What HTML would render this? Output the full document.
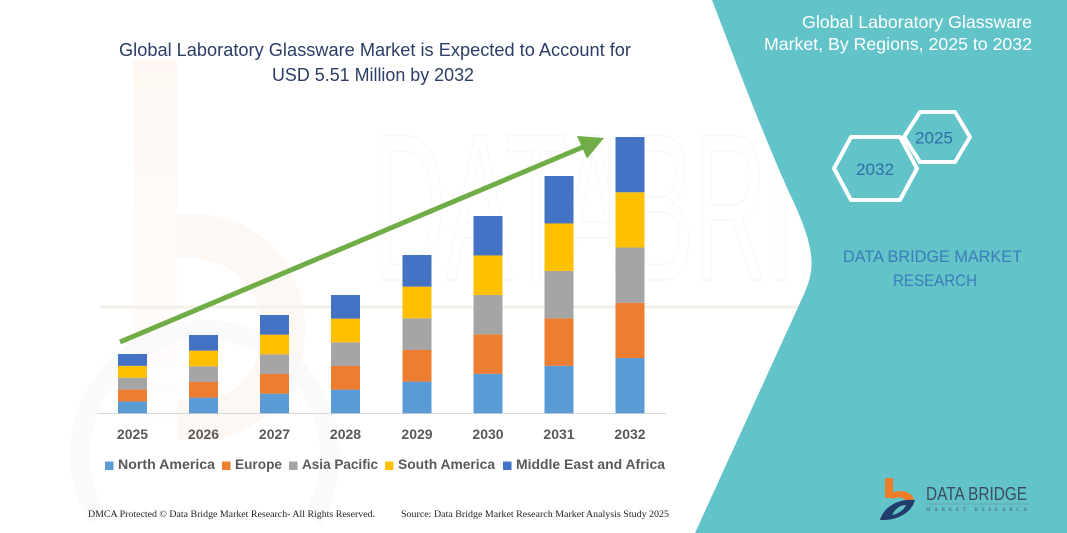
<!DOCTYPE html>
<html>
<head>
<meta charset="utf-8">
<style>
html,body{margin:0;padding:0;background:#fff;width:1067px;height:533px;overflow:hidden;}
svg{display:block;}
</style>
</head>
<body>
<svg width="1067" height="533" viewBox="0 0 1067 533" xmlns="http://www.w3.org/2000/svg">
  <defs>
    <linearGradient id="gOr" x1="0" y1="0" x2="0" y2="1">
      <stop offset="0" stop-color="#fbe3d3" stop-opacity="0.8"/>
      <stop offset="1" stop-color="#fbe3d3" stop-opacity="0.15"/>
    </linearGradient>
  </defs>
  <rect width="1067" height="533" fill="#ffffff"/>

  <!-- faint watermark: orange b and blue arc -->
  <g opacity="0.35">
    <rect x="133" y="60" width="44" height="360" fill="url(#gOr)"/>
    <path d="M177,215 C250,205 305,260 305,330 C305,395 255,440 200,440 L177,440 L177,400 L200,400 C235,400 262,370 262,330 C262,285 230,255 177,258 Z" fill="#fbe3d3" opacity="0.7"/>
    <path d="M98.2,520 A125,125 0 1 1 311.8,520" fill="none" stroke="#dfe7f0" stroke-width="20" opacity="0.5"/>
  </g>
  <text x="373" y="280" font-family="Liberation Sans, sans-serif" font-size="210" fill="none" stroke="#000" stroke-opacity="0.035" stroke-width="1.4" textLength="640" lengthAdjust="spacingAndGlyphs">DATABRIDGE</text>
  <line x1="100" y1="307" x2="800" y2="307" stroke="#f6f0ea" stroke-width="3"/>

  <!-- teal panel -->
  <path d="M712,0 C735,60 768,148 795,205 C815,250 815,268 805,292 L695,533 L1067,533 L1067,0 Z" fill="#62c3c9"/>

  <!-- Title -->
  <g font-family="Liberation Sans, sans-serif" fill="#2c3e66" font-size="18.5">
    <text x="119" y="56" textLength="512" lengthAdjust="spacingAndGlyphs">Global Laboratory Glassware Market is Expected to Account for</text>
    <text x="272" y="81" textLength="202" lengthAdjust="spacingAndGlyphs">USD 5.51 Million by 2032</text>
  </g>

  <!-- axis -->
  <line x1="97" y1="413.5" x2="666" y2="413.5" stroke="#d9d9d9" stroke-width="1"/>

  <!-- bars: bottom to top: NA, Europe, AP, SA, MEA -->
  <g>
    <rect x="118" y="401.44" width="29" height="11.86" fill="#5b9bd5"/>
    <rect x="118" y="389.58" width="29" height="11.86" fill="#ed7d31"/>
    <rect x="118" y="377.72" width="29" height="11.86" fill="#a5a5a5"/>
    <rect x="118" y="365.86" width="29" height="11.86" fill="#ffc000"/>
    <rect x="118" y="354" width="29" height="11.86" fill="#4472c4"/>

    <rect x="189" y="397.64" width="29" height="15.66" fill="#5b9bd5"/>
    <rect x="189" y="381.98" width="29" height="15.66" fill="#ed7d31"/>
    <rect x="189" y="366.32" width="29" height="15.66" fill="#a5a5a5"/>
    <rect x="189" y="350.66" width="29" height="15.66" fill="#ffc000"/>
    <rect x="189" y="335" width="29" height="15.66" fill="#4472c4"/>

    <rect x="260" y="393.64" width="29" height="19.66" fill="#5b9bd5"/>
    <rect x="260" y="373.98" width="29" height="19.66" fill="#ed7d31"/>
    <rect x="260" y="354.32" width="29" height="19.66" fill="#a5a5a5"/>
    <rect x="260" y="334.66" width="29" height="19.66" fill="#ffc000"/>
    <rect x="260" y="315" width="29" height="19.66" fill="#4472c4"/>

    <rect x="331" y="389.64" width="29" height="23.66" fill="#5b9bd5"/>
    <rect x="331" y="365.98" width="29" height="23.66" fill="#ed7d31"/>
    <rect x="331" y="342.32" width="29" height="23.66" fill="#a5a5a5"/>
    <rect x="331" y="318.66" width="29" height="23.66" fill="#ffc000"/>
    <rect x="331" y="295" width="29" height="23.66" fill="#4472c4"/>

    <rect x="402.5" y="381.64" width="29" height="31.66" fill="#5b9bd5"/>
    <rect x="402.5" y="349.98" width="29" height="31.66" fill="#ed7d31"/>
    <rect x="402.5" y="318.32" width="29" height="31.66" fill="#a5a5a5"/>
    <rect x="402.5" y="286.66" width="29" height="31.66" fill="#ffc000"/>
    <rect x="402.5" y="255" width="29" height="31.66" fill="#4472c4"/>

    <rect x="473.5" y="373.84" width="29" height="39.46" fill="#5b9bd5"/>
    <rect x="473.5" y="334.38" width="29" height="39.46" fill="#ed7d31"/>
    <rect x="473.5" y="294.92" width="29" height="39.46" fill="#a5a5a5"/>
    <rect x="473.5" y="255.46" width="29" height="39.46" fill="#ffc000"/>
    <rect x="473.5" y="216" width="29" height="39.46" fill="#4472c4"/>

    <rect x="544.5" y="365.84" width="29" height="47.46" fill="#5b9bd5"/>
    <rect x="544.5" y="318.38" width="29" height="47.46" fill="#ed7d31"/>
    <rect x="544.5" y="270.92" width="29" height="47.46" fill="#a5a5a5"/>
    <rect x="544.5" y="223.46" width="29" height="47.46" fill="#ffc000"/>
    <rect x="544.5" y="176" width="29" height="47.46" fill="#4472c4"/>

    <rect x="615.5" y="358.04" width="29" height="55.26" fill="#5b9bd5"/>
    <rect x="615.5" y="302.78" width="29" height="55.26" fill="#ed7d31"/>
    <rect x="615.5" y="247.52" width="29" height="55.26" fill="#a5a5a5"/>
    <rect x="615.5" y="192.26" width="29" height="55.26" fill="#ffc000"/>
    <rect x="615.5" y="137" width="29" height="55.26" fill="#4472c4"/>
  </g>

  <!-- green arrow -->
  <line x1="120" y1="342" x2="583" y2="147" stroke="#70ad47" stroke-width="5"/>
  <polygon points="604,138 587,158.5 577,136" fill="#70ad47"/>

  <!-- year labels -->
  <g font-family="Liberation Sans, sans-serif" font-weight="bold" font-size="14" fill="#595959" text-anchor="middle">
    <text x="132.5" y="439">2025</text>
    <text x="203.5" y="439">2026</text>
    <text x="274.5" y="439">2027</text>
    <text x="345.5" y="439">2028</text>
    <text x="417" y="439">2029</text>
    <text x="488" y="439">2030</text>
    <text x="559" y="439">2031</text>
    <text x="630" y="439">2032</text>
  </g>

  <!-- legend -->
  <g font-family="Liberation Sans, sans-serif" font-weight="bold" font-size="14" fill="#595959">
    <rect x="105" y="461.5" width="8.5" height="8.5" fill="#5b9bd5"/>
    <text x="118" y="469" textLength="97" lengthAdjust="spacingAndGlyphs">North America</text>
    <rect x="222" y="461.5" width="8.5" height="8.5" fill="#ed7d31"/>
    <text x="235" y="469" textLength="47" lengthAdjust="spacingAndGlyphs">Europe</text>
    <rect x="289" y="461.5" width="8.5" height="8.5" fill="#a5a5a5"/>
    <text x="302" y="469" textLength="76" lengthAdjust="spacingAndGlyphs">Asia Pacific</text>
    <rect x="385" y="461.5" width="8.5" height="8.5" fill="#ffc000"/>
    <text x="398" y="469" textLength="97" lengthAdjust="spacingAndGlyphs">South America</text>
    <rect x="503" y="461.5" width="8.5" height="8.5" fill="#4472c4"/>
    <text x="516" y="469" textLength="149" lengthAdjust="spacingAndGlyphs">Middle East and Africa</text>
  </g>

  <!-- footer -->
  <g font-family="Liberation Serif, serif" font-size="9.5" fill="#222">
    <text x="88" y="517" textLength="287" lengthAdjust="spacingAndGlyphs">DMCA Protected © Data Bridge Market Research-  All Rights Reserved.</text>
    <text x="401" y="517" textLength="268" lengthAdjust="spacingAndGlyphs">Source: Data Bridge Market Research  Market Analysis Study 2025</text>
  </g>

  <!-- right panel title -->
  <g font-family="Liberation Sans, sans-serif" font-size="17.5" fill="#ffffff" text-anchor="end">
    <text x="1032" y="28" textLength="230" lengthAdjust="spacingAndGlyphs">Global Laboratory Glassware</text>
    <text x="1032" y="50" textLength="268" lengthAdjust="spacingAndGlyphs">Market, By Regions, 2025 to 2032</text>
  </g>

  <!-- hexagons -->
  <polygon points="904,137 920,112 955,112 970,137 955,162 920,162" fill="none" stroke="#ffffff" stroke-width="4" stroke-linejoin="round"/>
  <polygon points="834,168.5 851,137 900,137 917,168.5 900,200 851,200" fill="none" stroke="#ffffff" stroke-width="4" stroke-linejoin="round"/>
  <g font-family="Liberation Sans, sans-serif" font-size="17" fill="#2f6fa8">
    <text x="915" y="143.5" textLength="38" lengthAdjust="spacingAndGlyphs">2025</text>
    <text x="856" y="175" textLength="38" lengthAdjust="spacingAndGlyphs">2032</text>
  </g>

  <!-- DATA BRIDGE MARKET RESEARCH -->
  <g font-family="Liberation Sans, sans-serif" font-size="17" fill="#3b7dba">
    <text x="843" y="262" textLength="179" lengthAdjust="spacingAndGlyphs">DATA BRIDGE MARKET</text>
    <text x="893" y="286" textLength="84" lengthAdjust="spacingAndGlyphs">RESEARCH</text>
  </g>

  <!-- logo -->
  <g>
    <rect x="885" y="478" width="8" height="20" fill="#f07c2a"/>
    <path d="M889,494 C900,488 914,492 914,501 L906,503 C905,497 898,496 893,499 Z" fill="#f07c2a"/>
    <path d="M880,520 C884,506 900,498 915,500 C912,512 898,521 880,520 Z M892,515 C898,514 904,510 906,505 C900,505 895,509 892,515 Z" fill="#213d6b" fill-rule="evenodd"/>
    <text x="926" y="500" font-family="Liberation Sans, sans-serif" font-size="18" fill="#3d4b5e" textLength="101" lengthAdjust="spacingAndGlyphs">DATA BRIDGE</text>
    <line x1="926" y1="504" x2="1028" y2="504" stroke="#7a8898" stroke-width="0.6"/>
    <text x="926" y="511" font-family="Liberation Serif, serif" font-size="5" fill="#4a5868" textLength="101" lengthAdjust="spacing">MARKET  RESEARCH</text>
  </g>
</svg>
</body>
</html>
